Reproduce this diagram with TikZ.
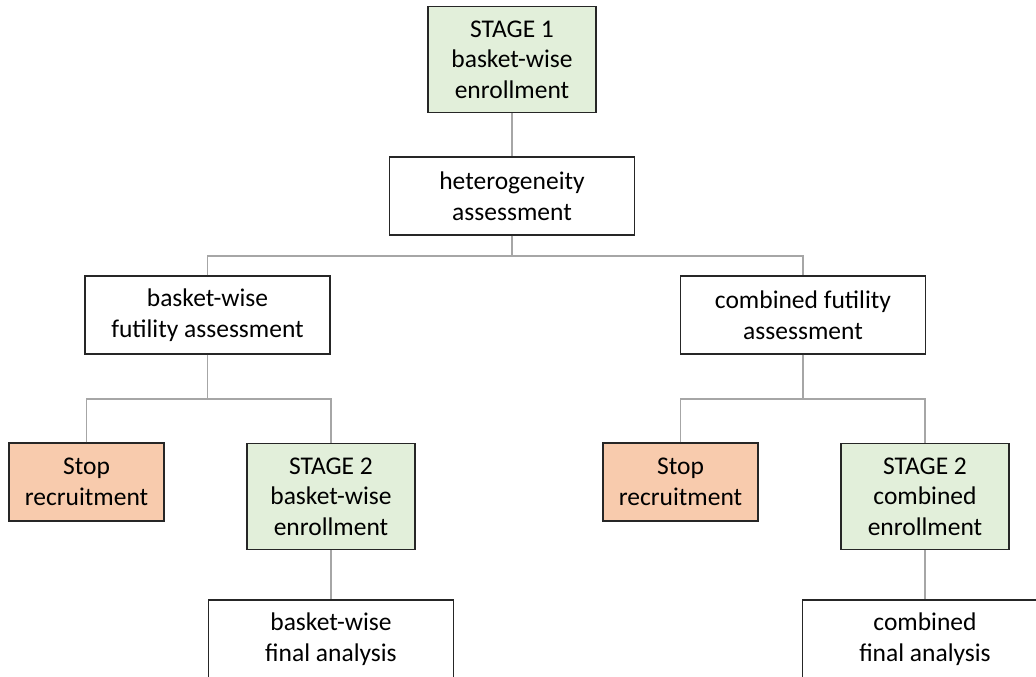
\documentclass[tikz,border=0pt]{standalone}
\usepackage{fontspec}
\setmainfont{Carlito}
\definecolor{stagegreen}{HTML}{E2EFDA}
\definecolor{stoporange}{HTML}{F8CBAD}
\definecolor{boxline}{HTML}{262626}
\definecolor{linkgray}{HTML}{A6A6A6}
\tikzset{
  box/.style={draw=boxline, line width=1.3pt, fill=white, inner sep=0pt,
    align=center, font=\fontsize{25.5}{30.5}\selectfont},
  widebox/.style={box, minimum width=245pt, minimum height=78pt},
  stopbox/.style={box, fill=stoporange, minimum width=155pt, minimum height=78pt},
  stagebox/.style={box, fill=stagegreen, minimum width=168pt, minimum height=106pt},
  link/.style={draw=linkgray, line width=1.2pt}
}
\begin{document}
\begin{tikzpicture}[x=1pt, y=-1pt]
  \clip (0,0) rectangle (1036,677);
  \fill[white] (0,0) rectangle (1036,677);

  % boxes
  \node[stagebox] (s1)   at (512,59.5)  {STAGE 1\\basket-wise\\enrollment};
  \node[widebox]  (het)  at (512,196)   {heterogeneity\\assessment};
  \node[widebox]  (bf)   at (207.5,315) {basket-wise\\futility assessment};
  \node[widebox]  (cf)   at (803,315)   {combined futility\\assessment};
  \node[stopbox]  (stL)  at (86.5,482)  {Stop\\recruitment};
  \node[stagebox] (s2L)  at (331,496.5) {STAGE 2\\basket-wise\\enrollment};
  \node[stopbox]  (stR)  at (680.5,482) {Stop\\recruitment};
  \node[stagebox] (s2R)  at (925,496.5) {STAGE 2\\combined\\enrollment};
  \node[widebox]  (finL) at (331,639)   {basket-wise\\final analysis};
  \node[widebox]  (finR) at (925,639)   {combined\\final analysis};

  % bus levels
  \coordinate (busA) at (0,256);
  \coordinate (busB) at (0,399);

  % connectors
  \draw[link] (s1.south) -- (s1.south -| het.north) -- (het.north);
  \draw[link] (het.south) -- (het.south |- busA);
  \draw[link] (bf.north) -- (bf.north |- busA) -- (cf.north |- busA) -- (cf.north);

  \draw[link] (bf.south) -- (bf.south |- busB);
  \draw[link] (stL.north) -- (stL.north |- busB) -- (s2L.north |- busB) -- (s2L.north);
  \draw[link] (cf.south) -- (cf.south |- busB);
  \draw[link] (stR.north) -- (stR.north |- busB) -- (s2R.north |- busB) -- (s2R.north);

  \draw[link] (s2L.south) -- (finL.north);
  \draw[link] (s2R.south) -- (finR.north);
\end{tikzpicture}
\end{document}
